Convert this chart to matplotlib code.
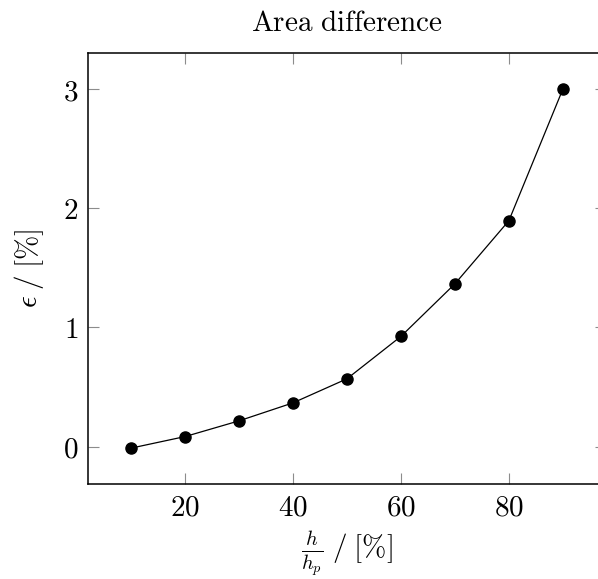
import matplotlib
matplotlib.use("Agg")
import matplotlib.pyplot as plt
from matplotlib.ticker import FuncFormatter

plt.rcParams['mathtext.fontset'] = 'cm'
plt.rcParams['font.family'] = 'DejaVu Serif'

x_vals = [10, 20, 30, 40, 50, 60, 70, 80, 90]
eps_vals = [-0.013, 0.084, 0.216, 0.367, 0.569, 0.925, 1.366, 1.896, 3.0]
x_ticks = [20, 40, 60, 80]
y_ticks = [0, 1, 2, 3]

W, H = 598, 579
fig = plt.figure(figsize=(W / 100, H / 100), dpi=100)
left, right, top, bottom = 88, 606, 53.3, 484
ax = fig.add_axes([left / W, 1 - bottom / H, (right - left) / W, (bottom - top) / H])

ax.plot(x_vals, eps_vals, color='black', lw=0.9, marker='o', ms=8, mfc='black', mec='black')

xmin, xmax = min(x_vals), max(x_vals)
ymin, ymax = min(eps_vals), max(eps_vals)
ax.set_xlim(xmin - 0.1 * (xmax - xmin), xmax + 0.1 * (xmax - xmin))
ax.set_ylim(ymin - 0.1 * (ymax - ymin), ymax + 0.1 * (ymax - ymin))

ax.set_xticks(x_ticks)
ax.set_yticks(y_ticks)
fmt = FuncFormatter(lambda v, p: r'$%d$' % round(v))
ax.xaxis.set_major_formatter(fmt)
ax.yaxis.set_major_formatter(fmt)
ax.tick_params(direction='in', length=8, width=0.8, color='0.55', labelsize=21,
               top=True, right=True, pad=7)
for s in ax.spines.values():
    s.set_linewidth(1.1)
    s.set_color('black')

ax.set_title(r'$\mathrm{Area\ difference}$', fontsize=21, pad=16)
ax.set_xlabel(r'$\frac{h}{h_p}\;/\;[\%]$', fontsize=21, labelpad=6)
ax.set_ylabel(r'$\epsilon\;/\;[\%]$', fontsize=21, labelpad=12)

fig.savefig('out.png', dpi=100)
